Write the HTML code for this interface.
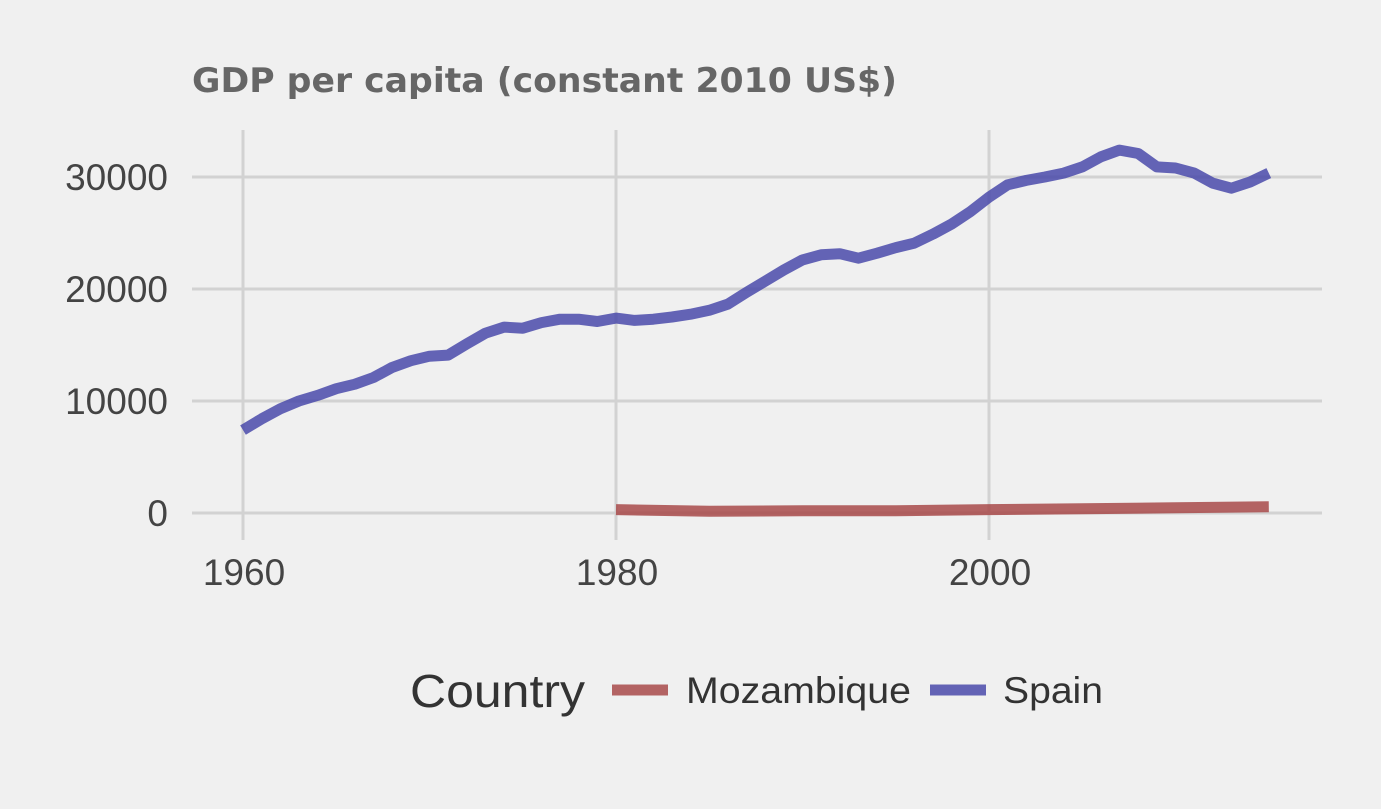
<!DOCTYPE html>
<html><head><meta charset="utf-8"><style>
html,body{margin:0;padding:0;background:#f0f0f0;}
svg{display:block;}
</style></head><body>
<svg width="1381" height="809" viewBox="0 0 1381 809" xmlns="http://www.w3.org/2000/svg">
<rect width="1381" height="809" fill="#f0f0f0"/>
<text x="192" y="92" font-family="DejaVu Sans, sans-serif" font-weight="bold" font-size="34" fill="#666" textLength="705" lengthAdjust="spacingAndGlyphs">GDP per capita (constant 2010 US$)</text>
<g id="grid"></g>
<g id="yticks"></g>
<g id="xticks"></g>
<g id="lines"></g>
<g>
<text x="410" y="707" font-family="Liberation Sans, sans-serif" font-size="46" fill="#333" textLength="175" lengthAdjust="spacingAndGlyphs">Country</text>
<line x1="612" y1="690" x2="668" y2="690" stroke="#a84a4a" stroke-opacity="0.85" stroke-width="11"/>
<text x="686" y="703" font-family="Liberation Sans, sans-serif" font-size="37" fill="#333" textLength="225" lengthAdjust="spacingAndGlyphs">Mozambique</text>
<line x1="930" y1="690" x2="986" y2="690" stroke="#4a4aaa" stroke-opacity="0.85" stroke-width="11"/>
<text x="1003" y="703" font-family="Liberation Sans, sans-serif" font-size="37" fill="#333" textLength="100" lengthAdjust="spacingAndGlyphs">Spain</text>
</g>
</svg>
<script>
const spainYears = [1960,1961,1962,1963,1964,1965,1966,1967,1968,1969,1970,1971,1972,1973,1974,1975,1976,1977,1978,1979,1980,1981,1982,1983,1984,1985,1986,1987,1988,1989,1990,1991,1992,1993,1994,1995,1996,1997,1998,1999,2000,2001,2002,2003,2004,2005,2006,2007,2008,2009,2010,2011,2012,2013,2014,2015];
const spainValues = [7400,8400,9300,10000,10500,11100,11500,12100,13000,13600,14000,14100,15100,16050,16600,16500,17000,17300,17300,17100,17400,17200,17300,17500,17750,18100,18650,19700,20700,21700,22600,23050,23150,22750,23200,23700,24100,24900,25800,26900,28200,29300,29700,30000,30350,30900,31800,32400,32100,30900,30800,30350,29450,29000,29550,30350];
const mozYears = [1980,1985,1990,1995,2000,2005,2010,2015];
const mozValues = [300,150,200,200,300,380,460,560];
const yTicks = [0,10000,20000,30000];
const xTicks = [1960,1980,2000];
const xs = y => 243 + (y-1960)*18.65;
const ys = v => 513 - v*0.0112;
const NS='http://www.w3.org/2000/svg';
const grid=document.getElementById('grid'), yt=document.getElementById('yticks'), xt=document.getElementById('xticks'), lines=document.getElementById('lines');
function mk(tag,attrs,parent){const e=document.createElementNS(NS,tag);for(const k in attrs)e.setAttribute(k,attrs[k]);parent.appendChild(e);return e;}
yTicks.forEach(v=>{
  const l=mk('line',{x1:192,x2:1322,y1:ys(v),y2:ys(v),stroke:'#d2d2d2','stroke-width':3},grid);
  
  
  const t=mk('text',{x:168,y:ys(v)+13,'text-anchor':'end','font-family':'Liberation Sans, sans-serif','font-size':37,fill:'#444'},yt);
  t.textContent=v;
  
  
});
xTicks.forEach(y=>{
  const l=mk('line',{x1:xs(y),x2:xs(y),y1:130,y2:540,stroke:'#d2d2d2','stroke-width':3},grid);
  
  
  const t=mk('text',{x:xs(y)+1,y:585,'text-anchor':'middle','font-family':'Liberation Sans, sans-serif','font-size':37,fill:'#444'},xt);
  t.textContent=y;
  
  
});
function path(xa,va){return xa.map((y,i)=>(i?'L':'M')+xs(y).toFixed(1)+','+ys(va[i]).toFixed(1)).join(' ');}
const m=mk('path',{d:path(mozYears,mozValues),fill:'none',stroke:'#a84a4a','stroke-opacity':0.85,'stroke-width':11,'stroke-linejoin':'round'},lines);


const s=mk('path',{d:path(spainYears,spainValues),fill:'none',stroke:'#4a4aaa','stroke-opacity':0.85,'stroke-width':11,'stroke-linejoin':'round'},lines);


</script>
</body></html>
